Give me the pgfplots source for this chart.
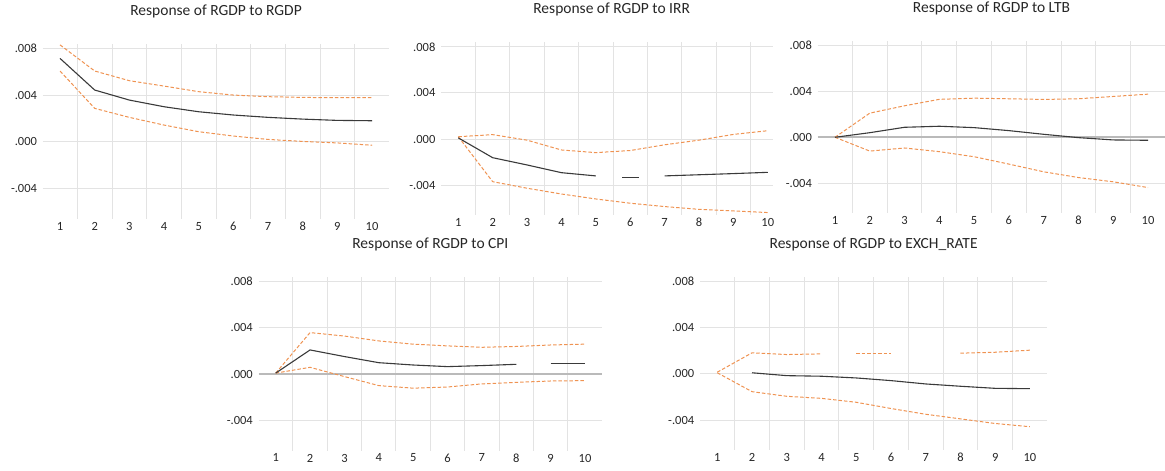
\documentclass[border=0pt]{standalone}
\usepackage{fontspec}
\setmainfont{Carlito}
\usepackage{pgfplots}
\pgfplotsset{compat=1.18}

\definecolor{gridc}{HTML}{E3E3E3}
\definecolor{zeroc}{HTML}{BABABA}
\definecolor{irfblack}{HTML}{3A3A3A}
\definecolor{bandc}{HTML}{EF9352}
\definecolor{tickc}{HTML}{262626}

\newcommand\ticksize{\fontsize{12.5}{14}\selectfont}
\newcommand\titlesize{\fontsize{15.5}{18}\selectfont}

\pgfplotsset{
  irf/.style={
    scale only axis, anchor=south west,
    xmin=0.5, xmax=10.5, ymin=-0.0066, ymax=0.0084,
    xtick={1,...,10}, minor xtick={1.5,2.5,...,9.5},
    ytick={-0.004,0,0.004,0.008}, yticklabels={-.004,.000,.004,.008},
    scaled y ticks=false,
    /pgf/number format/assume math mode=true,
    xmajorgrids=false, xminorgrids=true, ymajorgrids=true,
    grid style={color=gridc, line width=1pt},
    minor grid style={color=gridc, line width=1pt},
    axis line style={draw=none},
    major tick length=0pt, minor tick length=0pt,
    tick label style={font=\ticksize, text=tickc},
    xticklabel style={anchor=north, inner sep=0pt, yshift=-3pt},
    yticklabel style={anchor=east, inner sep=0pt, xshift=-5.5pt},
    title style={font=\titlesize, text=tickc, anchor=base, at={(0.5,1)}, yshift=22.5pt},
  },
  zeroline/.style={
    extra y ticks={0}, extra y tick labels={},
    extra y tick style={grid style={color=zeroc, line width=1.6pt}},
  },
  irfline/.style={color=irfblack, line width=1.1pt, no markers},
  band/.style={color=bandc, line width=1pt, dash pattern=on 3.5pt off 2pt, no markers},
}

\begin{document}
\begin{tikzpicture}
\useasboundingbox (0,0) rectangle (1165pt,471pt);

% Response of RGDP to RGDP
\begin{axis}[irf, at={(42.7pt,252.2pt)}, width=346.7pt, height=175.1pt,
  title={Response of RGDP to RGDP}]
  \addplot[band] coordinates {(1,0.0083)(2,0.00606)(3,0.00523)(4,0.00477)(5,0.00429)(6,0.0040)(7,0.00386)(8,0.0038)(9,0.00377)(10,0.00377)};
  \addplot[band] coordinates {(1,0.00606)(2,0.00286)(3,0.00209)(4,0.00143)(5,0.00086)(6,0.00049)(7,0.0002)(8,0.00003)(9,-0.0001)(10,-0.0003)};
  \addplot[irfline] coordinates {(1,0.00714)(2,0.00443)(3,0.00357)(4,0.0030)(5,0.00257)(6,0.00229)(7,0.00209)(8,0.00194)(9,0.00183)(10,0.0018)};
\end{axis}

% Response of RGDP to IRR
\begin{axis}[irf, at={(441.1pt,255.9pt)}, width=331.8pt, height=172.9pt, xmax=10.15,
  title={Response of RGDP to IRR}, title style={at={(0.514,1)}}]
  \addplot[band] coordinates {(1,0.0002)(2,0.00038)(3,-0.0001)(4,-0.00095)(5,-0.00118)(6,-0.0010)(7,-0.0005)(8,-0.0001)(9,0.0004)(10,0.00072)};
  \addplot[band] coordinates {(1,0.0002)(2,-0.0037)(3,-0.00427)(4,-0.00477)(5,-0.0052)(6,-0.00557)(7,-0.00586)(8,-0.0061)(9,-0.00624)(10,-0.00638)};
  \addplot[irfline] coordinates {(1,0.0001)(2,-0.00162)(3,-0.00225)(4,-0.00292)(5,-0.0032)};
  \addplot[color=irfblack, line width=1.1pt, only marks, mark=-, mark size=8.6pt] coordinates {(6,-0.0033)};
  \addplot[irfline] coordinates {(7,-0.0032)(8,-0.0031)(9,-0.0030)(10,-0.00289)};
\end{axis}

% Response of RGDP to LTB
\begin{axis}[irf, zeroline, at={(817.6pt,257.8pt)}, width=347.8pt, height=172.5pt,
  title={Response of RGDP to LTB}]
  \addplot[band] coordinates {(1,0)(2,0.0021)(3,0.00274)(4,0.0033)(5,0.0034)(6,0.00335)(7,0.00329)(8,0.00335)(9,0.00355)(10,0.00375)};
  \addplot[band] coordinates {(1,0)(2,-0.0012)(3,-0.00093)(4,-0.00125)(5,-0.00169)(6,-0.00233)(7,-0.0030)(8,-0.0035)(9,-0.00387)(10,-0.00437)};
  \addplot[irfline] coordinates {(1,0)(2,0.0004)(3,0.00087)(4,0.00096)(5,0.00084)(6,0.00058)(7,0.00026)(8,-0.00003)(9,-0.00023)(10,-0.00026)};
\end{axis}

% Response of RGDP to CPI
\begin{axis}[irf, zeroline, at={(258.5pt,20.3pt)}, width=343.7pt, height=173.7pt,
  title={Response of RGDP to CPI}]
  \addplot[band] coordinates {(1,0.0001)(2,0.0036)(3,0.0033)(4,0.00288)(5,0.0026)(6,0.00245)(7,0.00233)(8,0.0024)(9,0.00253)(10,0.0026)};
  \addplot[band] coordinates {(1,0.0001)(2,0.0006)(3,-0.0002)(4,-0.00098)(5,-0.0012)(6,-0.0011)(7,-0.00083)(8,-0.0007)(9,-0.00058)(10,-0.00055)};
  \addplot[irfline] coordinates {(1,0.0001)(2,0.0021)(3,0.00153)(4,0.0010)(5,0.0008)(6,0.00066)(7,0.00075)(8,0.00086)};
  \addplot[irfline] coordinates {(9,0.00095)(10,0.00095)};
\end{axis}

% Response of RGDP to EXCH_RATE
\begin{axis}[irf, at={(699.9pt,21.0pt)}, width=347.4pt, height=172.9pt,
  title={Response of RGDP to EXCH\_RATE}]
  \addplot[band] coordinates {(1,0.00015)(2,0.00183)(3,0.00168)(4,0.00174)};
  \addplot[band] coordinates {(5,0.0018)(6,0.0018)};
  \addplot[band] coordinates {(8,0.0018)(9,0.00188)(10,0.00206)};
  \addplot[band] coordinates {(1,0.0001)(2,-0.00154)(3,-0.00194)(4,-0.00212)(5,-0.00246)(6,-0.0030)(7,-0.0035)(8,-0.0039)(9,-0.0043)(10,-0.00458)};
  \addplot[irfline] coordinates {(2,0.0001)(3,-0.00015)(4,-0.0002)(5,-0.00035)(6,-0.00058)(7,-0.00087)(8,-0.00107)(9,-0.00125)(10,-0.00128)};
\end{axis}
\end{tikzpicture}
\end{document}
